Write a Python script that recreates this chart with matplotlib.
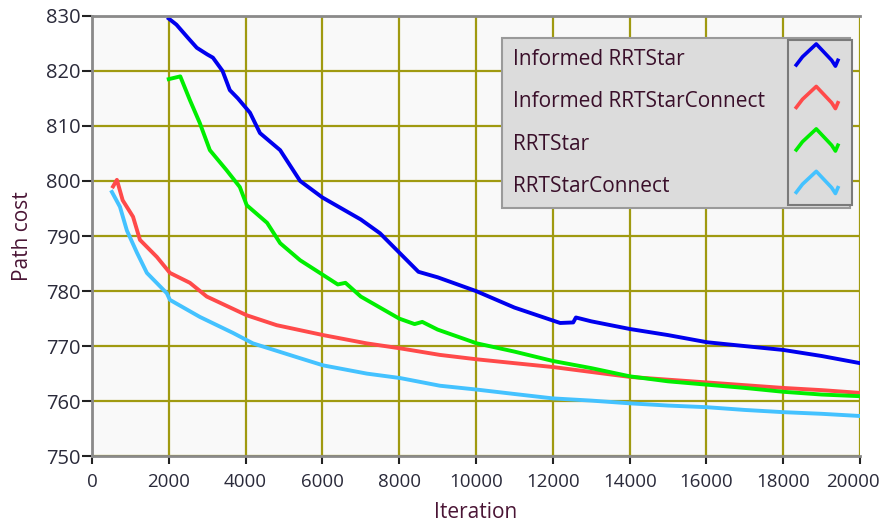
import matplotlib
matplotlib.use('Agg')
import matplotlib.pyplot as plt
from matplotlib.legend_handler import HandlerBase
from matplotlib.lines import Line2D
from matplotlib.transforms import ScaledTranslation

plt.rcParams['font.family'] = ['Open Sans', 'DejaVu Sans']

# data
irrt_x = [2000, 2200, 2500, 2730, 3000, 3150, 3400, 3590, 3800, 4115, 4375, 4900, 5420,
          6000, 6500, 7000, 7500, 8000, 8500, 9000, 10000, 11000, 12190, 12530, 12600,
          13000, 14010, 15000, 16015, 17000, 18000, 19000, 20000]
irrt_y = [829.5, 828.4, 826.0, 824.2, 823.0, 822.4, 820.0, 816.5, 815.0, 812.4, 808.7, 805.6, 800.0,
          797.0, 795.0, 793.0, 790.5, 787.0, 783.5, 782.5, 780.0, 777.0, 774.2, 774.3, 775.2,
          774.5, 773.1, 772.0, 770.7, 770.0, 769.3, 768.2, 766.9]

rrt_x = [2000, 2300, 2550, 2810, 3070, 3500, 3850, 4030, 4560, 4900, 5420, 6000, 6400,
         6600, 7000, 7500, 8000, 8400, 8600, 9000, 10020, 11000, 12000, 13000, 14010,
         15000, 16000, 17000, 18000, 19000, 20000]
rrt_y = [818.5, 819.0, 814.7, 810.5, 805.6, 802.0, 798.9, 795.6, 792.4, 788.7, 785.6, 783.0, 781.2,
         781.5, 779.0, 777.0, 775.0, 774.0, 774.4, 773.0, 770.5, 769.0, 767.3, 766.0, 764.5,
         763.6, 763.0, 762.4, 761.7, 761.2, 760.9]

irrtc_x = [550, 650, 800, 1070, 1250, 1690, 2030, 2550, 2990, 4030, 4810, 6020, 7150,
           8020, 9060, 10020, 11000, 12000, 13000, 14010, 15000, 16010, 17000, 18000, 19000, 20000]
irrtc_y = [799.0, 800.2, 796.5, 793.5, 789.3, 786.2, 783.3, 781.5, 779.0, 775.6, 773.8, 772.0, 770.5,
           769.6, 768.4, 767.6, 766.9, 766.2, 765.3, 764.4, 763.9, 763.4, 762.9, 762.4, 762.0, 761.5]

rrtc_x = [520, 730, 910, 1170, 1430, 1950, 2030, 2810, 3670, 4190, 5420, 6020, 7160,
          8020, 9060, 10020, 11000, 12000, 13000, 14010, 15000, 16010, 17000, 18000, 19000, 20000]
rrtc_y = [798.0, 795.3, 791.0, 787.0, 783.3, 779.6, 778.4, 775.3, 772.4, 770.5, 767.8, 766.5, 765.0,
          764.2, 762.8, 762.1, 761.3, 760.5, 760.1, 759.6, 759.2, 758.9, 758.4, 758.0, 757.7, 757.3]

names = ['Informed RRTStar', 'Informed RRTStarConnect', 'RRTStar', 'RRTStarConnect']
colors = ['#0000ee', '#ff4a4a', '#00ee00', '#44c2ff']
series = [(irrt_x, irrt_y), (irrtc_x, irrtc_y), (rrt_x, rrt_y), (rrtc_x, rrtc_y)]

x_ticks = list(range(0, 20001, 2000))
y_ticks = list(range(750, 831, 10))

grid_col = '#a09a10'
label_col = '#4a1535'
FS = 15
LSP = 1.03


class ChevronHandler(HandlerBase):
    # the little "^" glyph LabVIEW draws in its plot legend
    def create_artists(self, legend, orig_handle, xdescent, ydescent, width, height, fontsize, trans):
        xs = [0.0, 0.15, 0.48, 0.85, 0.94, 1.0]
        ys = [0.1, 0.45, 1.0, 0.3, 0.05, 0.3]
        line = Line2D([x * width - xdescent for x in xs],
                      [y * height * 1.6 - ydescent - 0.2 * height for y in ys],
                      color=orig_handle.get_color(), lw=2.6, transform=trans)
        return [line]


class BlankHandler(HandlerBase):
    def create_artists(self, legend, orig_handle, xdescent, ydescent, width, height, fontsize, trans):
        return [Line2D([], [], visible=False)]


fig = plt.figure(figsize=(8.84, 5.28), dpi=100)
ax = fig.add_axes([0.104, 0.136, 0.869, 0.834])
ax.set_facecolor('#f9f9f9')

handles = []
for (xs, ys), c, n in zip(series, colors, names):
    h, = ax.plot(xs, ys, color=c, lw=2.8, label=n)
    handles.append(h)

ax.set_xlim(0, 20000)
ax.set_ylim(750, 830)
ax.set_xticks(x_ticks)
ax.set_yticks(y_ticks)
ax.grid(True, color=grid_col, lw=1.6)
ax.set_axisbelow(True)

for s in ['left', 'bottom', 'top']:
    ax.spines[s].set_color('#8a8a8a')
    ax.spines[s].set_linewidth(2)
ax.spines['right'].set_visible(False)

ax.tick_params(axis='both', colors='#222222', width=1.5, labelcolor='#2a2a3a')
ax.tick_params(axis='x', labelsize=13.5, length=6, pad=6)
ax.tick_params(axis='y', labelsize=14.5, length=7.5, pad=1)

ax.set_xlabel('Iteration', fontsize=FS, color=label_col, labelpad=8)
ax.set_ylabel('Path cost', fontsize=FS, color=label_col, labelpad=9)

# legend text panel (grey box, left aligned names)
leg1 = ax.legend(handles=handles, loc='upper left', bbox_to_anchor=(0.534, 0.566, 0.453, 0.384),
                 mode='expand', handler_map={Line2D: BlankHandler()},
                 fontsize=FS, frameon=True, fancybox=False, borderpad=0.52,
                 labelspacing=LSP, handlelength=0, handletextpad=0.0, borderaxespad=0.0)
f1 = leg1.get_frame()
f1.set_facecolor('#dcdcdc')
f1.set_edgecolor('#9a9a9a')
f1.set_linewidth(1.5)
f1.set_alpha(1.0)
for t in leg1.get_texts():
    t.set_color('#3a0f2a')
ax.add_artist(leg1)

# plot glyph column on the right of the panel
leg2 = ax.legend(handles=handles, labels=[' '] * len(handles), loc='upper left',
                 bbox_to_anchor=(0.906, 0.945), handler_map={Line2D: ChevronHandler()},
                 fontsize=FS, frameon=True, fancybox=False, borderpad=0.4,
                 labelspacing=LSP, handlelength=2.0, handletextpad=0.0, borderaxespad=0.0)
f2 = leg2.get_frame()
f2.set_facecolor('#dcdcdc')
f2.set_edgecolor('#7a7a7a')
f2.set_linewidth(1.5)
f2.set_alpha(1.0)

# last x label is nudged left so it stays inside the picture
fig.canvas.draw()
last = ax.xaxis.get_major_ticks()[-1].label1
last.set_transform(last.get_transform() + ScaledTranslation(-5 / 72, 0, fig.dpi_scale_trans))

fig.savefig('out.png', dpi=100, facecolor='white')
